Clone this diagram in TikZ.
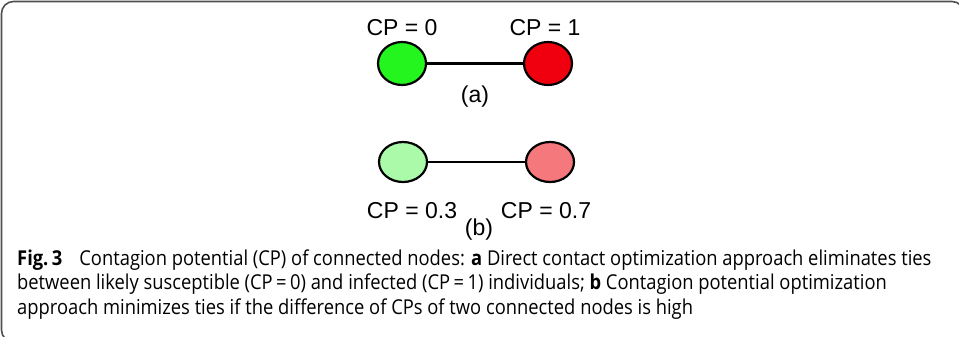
\documentclass[tikz,border=0pt]{standalone}
\usepackage{fontspec}
\setmainfont{Liberation Sans}
\newfontfamily\capfont[FakeStretch=0.895]{Open Sans}
\usetikzlibrary{shapes.geometric}

\definecolor{cpzero}{RGB}{36,245,30}
\definecolor{cpone}{RGB}{240,0,14}
\definecolor{cplow}{RGB}{170,250,170}
\definecolor{cphigh}{RGB}{245,120,125}
\definecolor{framegray}{RGB}{80,80,80}

\begin{document}
\begin{tikzpicture}[x=1bp,y=-1bp,
  cpnode/.style={ellipse, draw=black, line width=2.2bp, minimum width=48bp,
                 minimum height=43bp, inner sep=0pt},
  tie/.style={line width=2.2bp, draw=black},
  cplabel/.style={font=\fontsize{23bp}{27bp}\selectfont, anchor=base, inner sep=0pt},
  capline/.style={font=\capfont\fontsize{20.5bp}{25bp}\selectfont, anchor=base west,
                  inner sep=0pt},
  panelframe/.style={draw=framegray, line width=1.6bp, rounded corners=12bp}]

\useasboundingbox (0,0) rectangle (959,336);
\clip (0,0) rectangle (959,336);

% outer panel frame (runs past the right and bottom edges)
\draw[panelframe] (1.5,1.5) rectangle (964,342);

% (a) extreme contagion potentials
\node[cpnode, fill=cpzero] (a0) at (402,63.5) {};
\node[cpnode, fill=cpone]  (a1) at (548,63.5) {};
\draw[tie] (a0) -- (a1);
\node[cplabel] (la0) at (402,35) {CP = 0};
\node[cplabel] (la1) at (545,35) {CP = 1};
\node[cplabel] (tagA) at (475,102) {(a)};

% (b) intermediate contagion potentials
\node[cpnode, fill=cplow, minimum height=40bp]  (b0) at (403,162) {};
\node[cpnode, fill=cphigh, minimum height=40bp] (b1) at (550,162) {};
\draw[tie] (b0) -- (b1);
\node[cplabel] (lb0) at (412,218.5) {CP = 0.3};
\node[cplabel] (lb1) at (546,218.5) {CP = 0.7};
\node[cplabel] (tagB) at (479,235) {(b)};

% caption
\node[capline] (cap1) at (17,265) {\textbf{Fig.\,3}\hspace{0.6em} Contagion potential (CP) of connected nodes: \textbf{a} Direct contact optimization approach eliminates ties};
\node[capline] (cap2) at (17,289.5) {between likely susceptible (CP\,=\,0) and infected (CP\,=\,1) individuals; \textbf{b} Contagion potential optimization};
\node[capline] (cap3) at (17,314) {approach minimizes ties if the difference of CPs of two connected nodes is high};
\end{tikzpicture}
\end{document}
